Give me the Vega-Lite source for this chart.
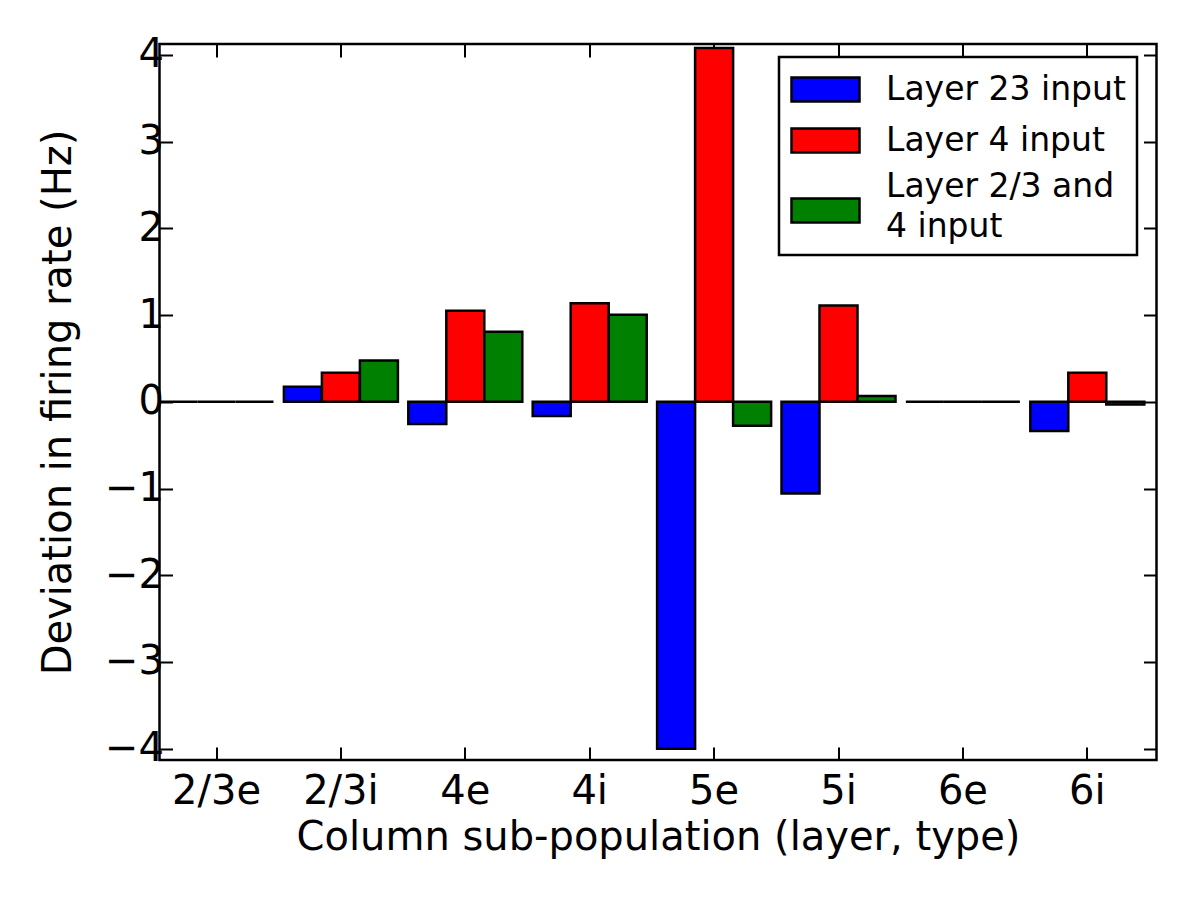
{
  "$schema": "https://vega.github.io/schema/vega-lite/v6.json",
  "width": 997,
  "height": 716,
  "autosize": {"type": "none"},
  "padding": {"left": 159.5, "top": 44, "right": 43.5, "bottom": 140},
  "background": "white",
  "config": {
    "font": "DejaVu Sans",
    "view": {"stroke": "black", "strokeWidth": 2.5},
    "axis": {
      "domain": false,
      "grid": false,
      "tickColor": "black",
      "tickWidth": 2,
      "tickSize": -13,
      "labelColor": "black",
      "labelFont": "DejaVu Sans",
      "labelFontSize": 40,
      "titleColor": "black",
      "titleFont": "DejaVu Sans",
      "titleFontSize": 40,
      "titleFontWeight": "normal"
    }
  },
  "data": {
    "values": [
      {"population": "2/3e", "series": "Layer 23 input", "deviation": 0},
      {"population": "2/3e", "series": "Layer 4 input", "deviation": 0},
      {"population": "2/3e", "series": "Layer 2/3 and 4 input", "deviation": 0},
      {"population": "2/3i", "series": "Layer 23 input", "deviation": 0.173},
      {"population": "2/3i", "series": "Layer 4 input", "deviation": 0.335},
      {"population": "2/3i", "series": "Layer 2/3 and 4 input", "deviation": 0.477},
      {"population": "4e", "series": "Layer 23 input", "deviation": -0.257},
      {"population": "4e", "series": "Layer 4 input", "deviation": 1.05},
      {"population": "4e", "series": "Layer 2/3 and 4 input", "deviation": 0.807},
      {"population": "4i", "series": "Layer 23 input", "deviation": -0.165},
      {"population": "4i", "series": "Layer 4 input", "deviation": 1.135},
      {"population": "4i", "series": "Layer 2/3 and 4 input", "deviation": 1.003},
      {"population": "5e", "series": "Layer 23 input", "deviation": -4.0},
      {"population": "5e", "series": "Layer 4 input", "deviation": 4.08},
      {"population": "5e", "series": "Layer 2/3 and 4 input", "deviation": -0.277},
      {"population": "5i", "series": "Layer 23 input", "deviation": -1.057},
      {"population": "5i", "series": "Layer 4 input", "deviation": 1.11},
      {"population": "5i", "series": "Layer 2/3 and 4 input", "deviation": 0.066},
      {"population": "6e", "series": "Layer 23 input", "deviation": 0},
      {"population": "6e", "series": "Layer 4 input", "deviation": 0},
      {"population": "6e", "series": "Layer 2/3 and 4 input", "deviation": 0},
      {"population": "6i", "series": "Layer 23 input", "deviation": -0.338},
      {"population": "6i", "series": "Layer 4 input", "deviation": 0.335},
      {"population": "6i", "series": "Layer 2/3 and 4 input", "deviation": -0.03}
    ]
  },
  "layer": [
    {
      "mark": {"type": "bar", "stroke": "black", "strokeWidth": 2.5, "strokeJoin": "miter"},
      "encoding": {
        "x": {
          "field": "population",
          "type": "nominal",
          "sort": ["2/3e", "2/3i", "4e", "4i", "5e", "5i", "6e", "6i"],
          "scale": {"paddingInner": 0.0836, "paddingOuter": 0.049, "align": 0},
          "axis": {
            "orient": "bottom",
            "title": "Column sub-population (layer, type)",
            "labelAngle": 0,
            "labelPadding": 24,
            "titlePadding": 6
          }
        },
        "xOffset": {
          "field": "series",
          "type": "nominal",
          "sort": ["Layer 23 input", "Layer 4 input", "Layer 2/3 and 4 input"],
          "scale": {"paddingInner": 0, "paddingOuter": 0}
        },
        "y": {
          "field": "deviation",
          "type": "quantitative",
          "scale": {"domain": [-4.13, 4.125], "nice": false, "zero": false},
          "axis": {
            "orient": "left",
            "values": [-4, -3, -2, -1, 0, 1, 2, 3, 4],
            "title": "Deviation in firing rate (Hz)",
            "labelPadding": 9,
            "titlePadding": 26
          }
        },
        "y2": {"datum": 0},
        "color": {
          "field": "series",
          "type": "nominal",
          "sort": ["Layer 23 input", "Layer 4 input", "Layer 2/3 and 4 input"],
          "scale": {
            "domain": ["Layer 23 input", "Layer 4 input", "Layer 2/3 and 4 input"],
            "range": ["#0000ff", "#ff0000", "#008000"]
          },
          "legend": {
            "orient": "none",
            "legendX": 619.5,
            "legendY": 13,
            "title": null,
            "symbolType": "M-1,-0.6H2.4V0.6H-1Z",
            "symbolSize": 1600,
            "symbolStrokeColor": "black",
            "symbolStrokeWidth": 2.5,
            "symbolOpacity": 1,
            "labelFontSize": 33,
            "labelFont": "DejaVu Sans",
            "labelColor": "black",
            "labelOffset": 53,
            "labelLimit": 400,
            "padding": 11,
            "rowPadding": 12,
            "gridAlign": "none",
            "strokeColor": "black",
            "fillColor": "white",
            "cornerRadius": 0,
            "labelExpr": "datum.label == 'Layer 2/3 and 4 input' ? ['Layer 2/3 and', '4 input'] : datum.label",
            "encode": {
              "legend": {"update": {"strokeWidth": {"value": 2.5}}},
              "labels": {"update": {"lineHeight": {"value": 40}, "dy": {"signal": "datum.value == 'Layer 2/3 and 4 input' ? -24 : 0"}}}
            }
          }
        }
      }
    },
    {
      "mark": {"type": "point", "opacity": 0},
      "encoding": {
        "x": {
          "field": "population",
          "type": "nominal",
          "sort": ["2/3e", "2/3i", "4e", "4i", "5e", "5i", "6e", "6i"],
          "axis": {"orient": "top", "labels": false, "title": null}
        },
        "y": {
          "field": "deviation",
          "type": "quantitative",
          "axis": {"orient": "right", "labels": false, "title": null, "values": [-4, -3, -2, -1, 0, 1, 2, 3, 4]}
        }
      }
    }
  ],
  "resolve": {"axis": {"x": "independent", "y": "independent"}}
}
